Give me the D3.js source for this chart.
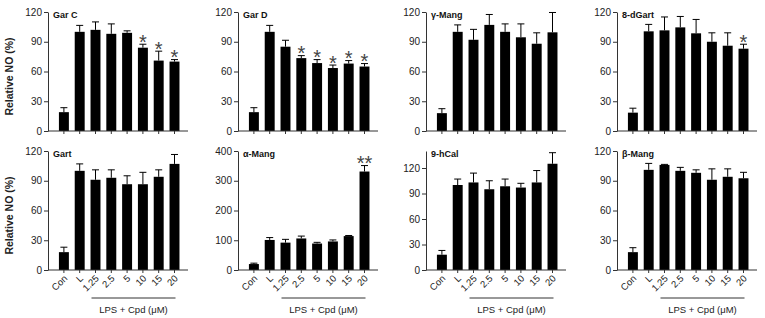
<!DOCTYPE html>
<html>
<head>
<meta charset="utf-8">
<script src="https://cdn.jsdelivr.net/npm/d3@7"></script>
<style>
  body { margin: 0; background: #fff; }
  text { font-family: Arial, "Liberation Sans", sans-serif; }
</style>
</head>
<body>
<div id="chart"></div>
<script>
// categories (x axis)
var categories = ["Con", "L", "1.25", "2.5", "5", "10", "15", "20"];

// values: mean and upper error
var garCMean = [19, 100, 102, 98, 99, 84, 71, 70];
var garCErr  = [4.5, 6.5, 8, 10, 2, 3.5, 9.5, 2];
var garCSig  = ["", "", "", "", "", "*", "*", "*"];

var garDMean = [19, 100, 85, 73.5, 68.5, 63.5, 68, 65];
var garDErr  = [4.5, 6.5, 6.5, 2.5, 3.5, 3, 3, 3];
var garDSig  = ["", "", "", "*", "*", "*", "*", "*"];

var gMangMean = [18, 100, 92, 107, 100, 94.5, 88, 99.5];
var gMangErr  = [4.5, 7, 10.5, 10.5, 8, 13.5, 11, 20];

var dGartMean = [18.5, 100.5, 101.5, 104.5, 98.5, 90, 86, 83];
var dGartErr  = [4.5, 7, 13.5, 11, 14, 9, 13, 4.5];
var dGartSig  = ["", "", "", "", "", "", "", "*"];

var gartMean = [18, 100, 91, 93, 86.5, 86.5, 94, 107];
var gartErr  = [5, 7, 10, 8, 8.5, 12, 7, 9.5];

var aMangMean = [20, 101, 92, 106, 89, 96, 114, 331];
var aMangErr  = [3, 8, 11, 8, 4, 5, 2, 20];
var aMangSig  = ["", "", "", "", "", "", "", "**"];

var hCalMean = [18, 100, 103, 95, 98.5, 97, 103, 125];
var hCalErr  = [5, 7, 11, 10, 8.5, 5, 14, 13];

var bMangMean = [18, 101, 106, 100, 98, 91, 94, 92.5];
var bMangErr  = [4.5, 6.5, 0.5, 3.5, 3, 11, 8, 6];

var ticks120 = [0, 30, 60, 90, 120];
var ticks400 = [0, 100, 200, 300, 400];

var panels = [
  {title: "Gar C",   mean: garCMean,  err: garCErr,  sig: garCSig,  max: 120, ticks: ticks120, row: 0, col: 0},
  {title: "Gar D",   mean: garDMean,  err: garDErr,  sig: garDSig,  max: 120, ticks: ticks120, row: 0, col: 1},
  {title: "\u03b3-Mang", mean: gMangMean, err: gMangErr, sig: null, max: 120, ticks: ticks120, row: 0, col: 2},
  {title: "8-dGart", mean: dGartMean, err: dGartErr, sig: dGartSig, max: 120, ticks: ticks120, row: 0, col: 3},
  {title: "Gart",    mean: gartMean,  err: gartErr,  sig: null,     max: 120, ticks: ticks120, row: 1, col: 0},
  {title: "\u03b1-Mang", mean: aMangMean, err: aMangErr, sig: aMangSig, max: 400, ticks: ticks400, row: 1, col: 1},
  {title: "9-hCal",  mean: hCalMean,  err: hCalErr,  sig: null,     max: 140, ticks: ticks120, row: 1, col: 2},
  {title: "\u03b2-Mang", mean: bMangMean, err: bMangErr, sig: null, max: 120, ticks: ticks120, row: 1, col: 3}
];

var width = 765, height = 318;
var colX = [48, 238, 426, 617];
var rowTop = [12, 151];
var plotH = 119;
var plotW = 140;

var svg = d3.select("#chart")
  .append("svg")
  .attr("width", width)
  .attr("height", height);

var x = d3.scaleBand()
  .domain(categories)
  .range([8, 134.4])
  .paddingInner(0.37)
  .paddingOuter(0.185);

panels.forEach(function(p) {
  var g = svg.append("g")
    .attr("transform", "translate(" + colX[p.col] + "," + rowTop[p.row] + ")");

  var y = d3.scaleLinear()
    .domain([0, p.max])
    .range([plotH, 0]);

  // bars
  g.selectAll(".bar")
    .data(p.mean)
    .enter().append("rect")
    .attr("x", function(d, i) { return x(categories[i]); })
    .attr("y", function(d) { return y(d); })
    .attr("width", x.bandwidth())
    .attr("height", function(d) { return plotH - y(d); })
    .attr("fill", "#000");

  // error bars (upper only)
  g.selectAll(".err")
    .data(p.mean)
    .enter().append("path")
    .attr("fill", "none")
    .attr("stroke", "#000")
    .attr("stroke-width", 1)
    .attr("d", function(d, i) {
      var cx = x(categories[i]) + x.bandwidth() / 2;
      var top = y(d + p.err[i]);
      return "M" + cx + "," + y(d) + "V" + top + "M" + (cx - 3.5) + "," + top + "H" + (cx + 3.5);
    });

  // significance marks
  if (p.sig) {
    g.selectAll(".sig")
      .data(p.mean)
      .enter().append("text")
      .attr("x", function(d, i) { return x(categories[i]) + x.bandwidth() / 2; })
      .attr("y", function(d, i) { return y(d + p.err[i]) + 4.5; })
      .attr("text-anchor", "middle")
      .style("font-size", "20px")
      .style("fill", "#444")
      .text(function(d, i) { return p.sig[i]; });
  }

  // y axis
  var yAxis = g.append("g")
    .call(d3.axisLeft(y).tickValues(p.ticks).tickSize(4).tickSizeOuter(0));
  yAxis.select(".domain").attr("stroke", "#333");
  yAxis.selectAll(".tick line").attr("stroke", "#333");
  yAxis.selectAll(".tick text")
    .style("font-size", "10px")
    .style("fill", "#222")
    .attr("x", -6);

  // x axis
  var xAxis = g.append("g")
    .attr("transform", "translate(0," + plotH + ")")
    .call(d3.axisBottom(x).tickSize(3).tickSizeOuter(0));
  xAxis.select(".domain").attr("stroke", "#333").attr("d", "M0,0H" + plotW);
  xAxis.selectAll(".tick line").attr("stroke", "#333");

  if (p.row === 1) {
    xAxis.selectAll(".tick text")
      .style("font-size", "9.5px")
      .style("fill", "#222")
      .attr("text-anchor", "end")
      .attr("dy", 0)
      .attr("y", 0)
      .attr("transform", "translate(4,9) rotate(-45)");

    var x1 = x("1.25") + x.bandwidth() / 2 - 4;
    var x2 = x("20") + x.bandwidth() / 2 + 1;
    g.append("line")
      .attr("x1", x1).attr("x2", x2)
      .attr("y1", plotH + 28).attr("y2", plotH + 28)
      .attr("stroke", "#333");
    g.append("text")
      .attr("x", (x1 + x2) / 2)
      .attr("y", plotH + 43)
      .attr("text-anchor", "middle")
      .style("font-size", "9.5px")
      .style("fill", "#222")
      .text("LPS + Cpd (\u03bcM)");
  } else {
    xAxis.selectAll(".tick text").remove();
  }

  // panel title
  g.append("text")
    .attr("x", 5)
    .attr("y", 6)
    .style("font-size", "9px")
    .style("font-weight", "bold")
    .style("fill", "#111")
    .text(p.title);

  // y label on first column
  if (p.col === 0) {
    g.append("text")
      .attr("transform", "translate(-35," + (plotH / 2 + 5) + ") rotate(-90)")
      .attr("text-anchor", "middle")
      .style("font-size", "10.5px")
      .style("font-weight", "bold")
      .style("fill", "#222")
      .text("Relative NO (%)");
  }
});
</script>
</body>
</html>
